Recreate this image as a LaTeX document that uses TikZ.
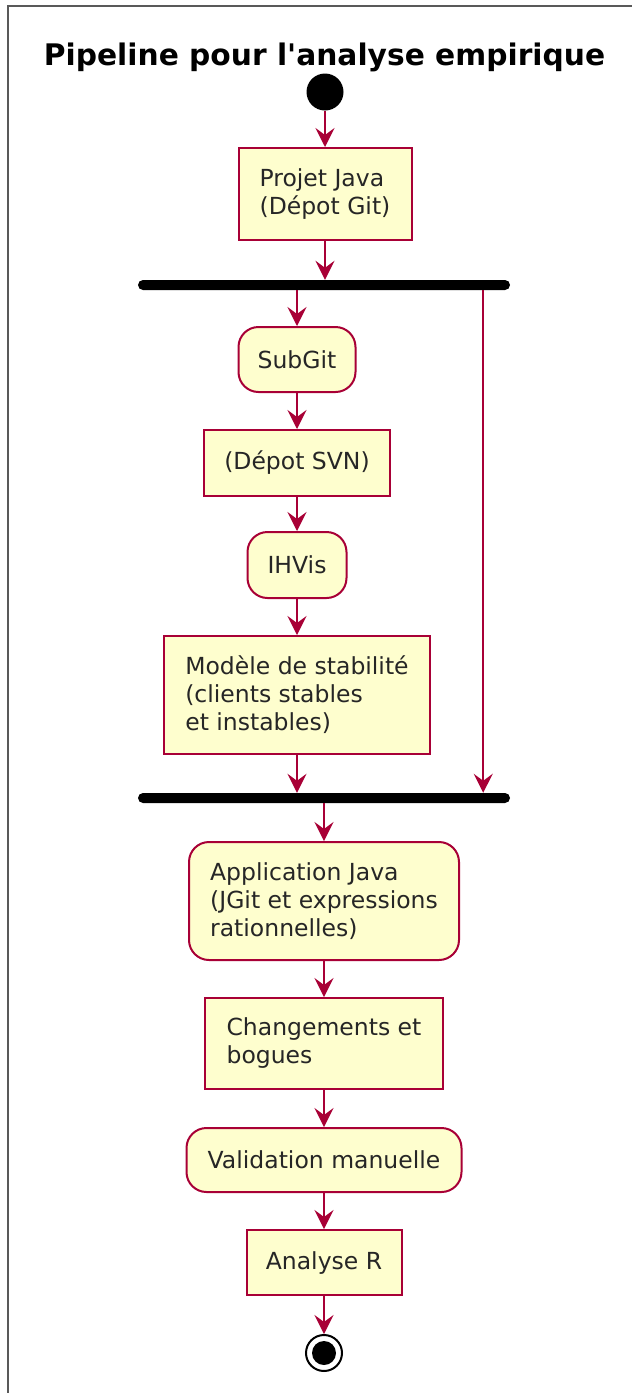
\documentclass[tikz,border=0pt]{standalone}
\usepackage{fontspec}
\setmainfont{DejaVu Sans}[Ligatures=TeXOff]
\usetikzlibrary{arrows.meta}

\definecolor{umlred}{HTML}{A80036}
\definecolor{umlfill}{HTML}{FEFECE}

\tikzset{
    act/.style = {draw = umlred, fill = umlfill, line width = 2pt, align = left, inner sep = 0pt,
        text = black!85, font = \fontsize{23.5}{28}\selectfont},
    ract/.style = {act, rounded corners = 20pt},
    bar/.style = {fill = black, rounded corners = 5pt, minimum width = 372pt, minimum height = 10pt, inner sep = 0pt},
    flow/.style = {draw = umlred, line width = 2pt, -{Stealth[length = 19pt, width = 19pt, inset = 7pt]}},
}

\begin{document}
\begin{tikzpicture}[x = 1pt, y = -1pt]
    \useasboundingbox[fill = white] (0,0) rectangle (632,1393);
    \draw[black!65, line width = 2pt] (632,6) -- (8,6) -- (8,1393);

    \node[anchor = base, font = \bfseries\fontsize{29.7}{35}\selectfont] (title) at (324.5,65) {Pipeline pour l'analyse empirique};

    % debut
    \node[circle, fill = black, minimum size = 37pt, inner sep = 0pt] (start) at (325,92) {};
    \node[act, minimum width = 173pt, minimum height = 92pt] (projet) at (325,194) {Projet Java\\(Dépot Git)};
    \node[bar] (fork) at (324,285) {};

    % branche gauche
    \node[ract, minimum width = 117pt, minimum height = 65pt] (subgit) at (297,359.5) {SubGit};
    \node[act, minimum width = 186pt, minimum height = 66pt] (svn) at (297,463) {(Dépot SVN)};
    \node[ract, minimum width = 99pt, minimum height = 66pt] (ihvis) at (297,565) {IHVis};
    \node[act, minimum width = 266pt, minimum height = 118pt] (modele) at (297,695)
        {Modèle de stabilité\\(clients stables\\et instables)};

    \node[bar] (join) at (324,798) {};

    % suite
    \node[ract, minimum width = 270pt, minimum height = 118pt] (appli) at (324,901)
        {Application Java\\(JGit et expressions\\rationnelles)};
    \node[act, minimum width = 238pt, minimum height = 91pt] (chg) at (324,1043.5) {Changements et\\bogues};
    \node[ract, minimum width = 275pt, minimum height = 64pt] (valid) at (324,1160) {Validation manuelle};
    \node[act, minimum width = 155pt, minimum height = 65pt] (analyse) at (324,1262.5) {Analyse R};

    % fin
    \node[circle, draw = black, line width = 2pt, fill = white, minimum size = 36pt, inner sep = 0pt] (stop) at (324,1353) {};
    \node[circle, fill = black, minimum size = 24pt, inner sep = 0pt] (stopdot) at (stop) {};

    \draw[flow] (start) -- (projet);
    \draw[flow] (projet) -- (projet.south |- fork.north);
    \draw[flow] (fork.south -| subgit.north) -- (subgit);
    \draw[flow] (subgit) -- (svn);
    \draw[flow] (svn) -- (ihvis);
    \draw[flow] (ihvis) -- (modele);
    \draw[flow] (modele.south) -- (modele.south |- join.north);
    \draw[flow] ([xshift = -27pt]fork.south east) -- ([xshift = -27pt]join.north east);
    \draw[flow] (join.south -| appli.north) -- (appli);
    \draw[flow] (appli) -- (chg);
    \draw[flow] (chg) -- (valid);
    \draw[flow] (valid) -- (analyse);
    \draw[flow] (analyse) -- (stop);
\end{tikzpicture}
\end{document}
